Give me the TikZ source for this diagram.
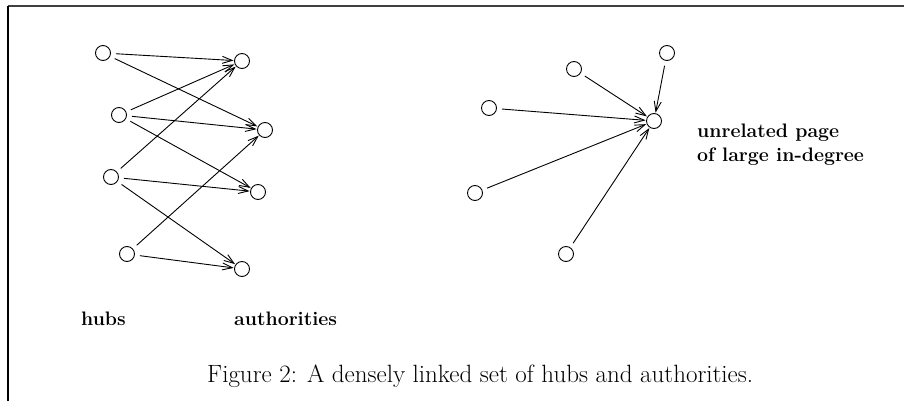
\documentclass[tikz,border=0pt]{standalone}
\usetikzlibrary{arrows.meta}
\begin{document}
\begin{tikzpicture}[x=1pt,y=-1pt,
  pg/.style={circle,draw,line width=0.9pt,minimum size=15pt,inner sep=0pt},
  lnk/.style={line width=0.9pt,-{Straight Barb[length=10pt,width=7pt,line width=0.9pt]},shorten <=5pt,shorten >=0.5pt},
  lab/.style={font=\fontsize{19.5}{23}\selectfont\bfseries,inner sep=0pt,anchor=base west},
  captext/.style={font=\fontsize{25}{30}\selectfont,inner sep=0pt,anchor=base west}]
\useasboundingbox (0,0) rectangle (904,401);
\fill[white] (0,0) rectangle (904,401);
\draw[line width=2pt,black!75] (8,6) -- (904,6);
\draw[line width=2pt] (8,6) -- (8,401);
% left graph
\node[pg] (h1) at (103,53) {};
\node[pg] (h2) at (119,115) {};
\node[pg] (h3) at (111,177) {};
\node[pg] (h4) at (127,254) {};
\node[pg] (a1) at (242,61) {};
\node[pg] (a2) at (265,130) {};
\node[pg] (a3) at (258,192) {};
\node[pg] (a4) at (242,269) {};
\draw[lnk] (h1) -- (a1);
\draw[lnk] (h1) -- (a2);
\draw[lnk] (h2) -- (a1);
\draw[lnk] (h2) -- (a2);
\draw[lnk] (h2) -- (a3);
\draw[lnk] (h3) -- (a1);
\draw[lnk] (h3) -- (a3);
\draw[lnk] (h3) -- (a4);
\draw[lnk] (h4) -- (a2);
\draw[lnk] (h4) -- (a4);
% right graph
\node[pg] (c) at (654,121) {};
\node[pg] (r1) at (667,53) {};
\node[pg] (r2) at (574,69) {};
\node[pg] (r3) at (489,108) {};
\node[pg] (r4) at (475,193) {};
\node[pg] (r5) at (566,254) {};
\draw[lnk] (r1) -- (c);
\draw[lnk] (r2) -- (c);
\draw[lnk] (r3) -- (c);
\draw[lnk] (r4) -- (c);
\draw[lnk] (r5) -- (c);
% labels
\node[lab] (hubs) at (81,325) {hubs};
\node[lab] (auth) at (234,325) {authorities};
\node[lab] (u1) at (697,138) {unrelated page};
\node[lab] (u2) at (697,161) {of large in-degree};
\node[captext] (caption) at (207,382) {Figure 2: A densely linked set of hubs and authorities.};
\end{tikzpicture}
\end{document}
